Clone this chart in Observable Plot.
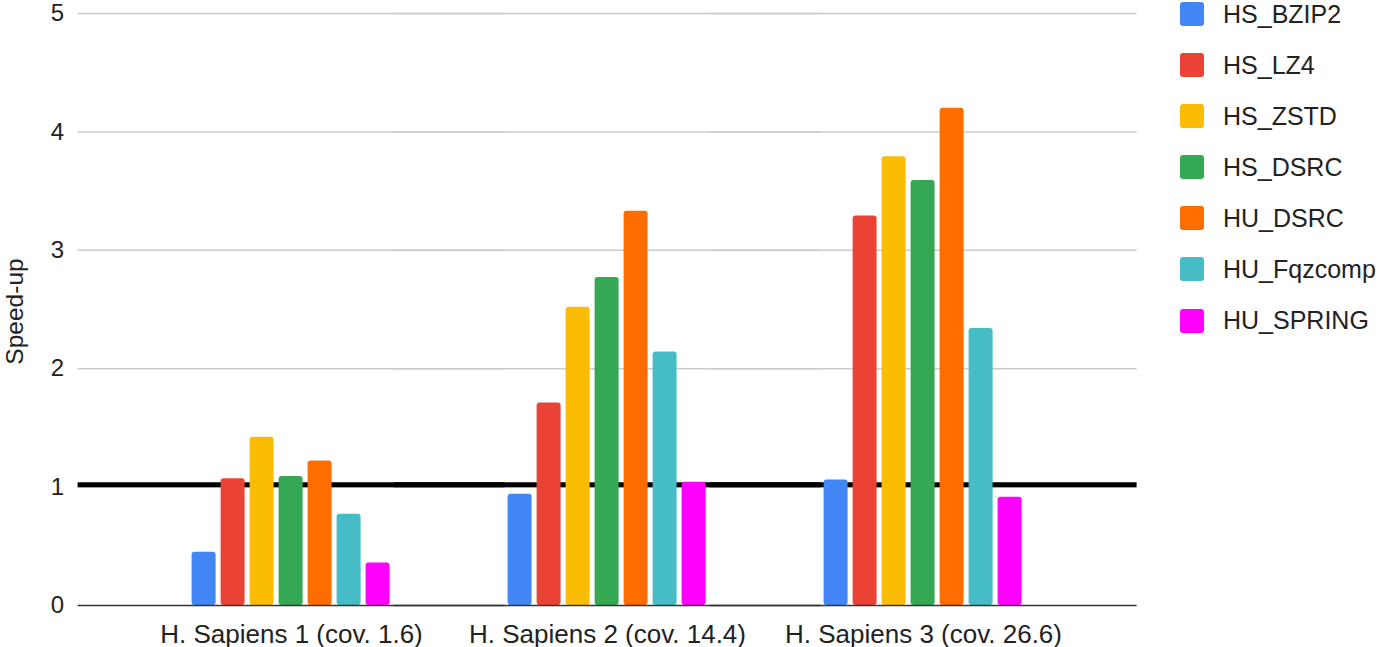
<!DOCTYPE html>
<html>
<head>
<meta charset="utf-8">
<script src="https://cdn.jsdelivr.net/npm/d3@7"></script>
<script src="https://cdn.jsdelivr.net/npm/@observablehq/plot@0.6"></script>
<style>
  html, body { margin: 0; padding: 0; background: #fff; }
  #wrap { position: relative; width: 1381px; height: 647px; font-family: "Liberation Sans", Arial, sans-serif; }
  #legend { position: absolute; left: 1180px; top: 2px; }
  .item { display: flex; align-items: center; height: 24px; margin-bottom: 27.1px; font-size: 25px; color: #222; }
  .sw { width: 24px; height: 24px; border-radius: 3px; margin-right: 19px; flex: none; }
</style>
</head>
<body>
<div id="wrap"><div id="chart"></div><div id="legend"></div></div>
<script>
const groups = ["H. Sapiens 1 (cov. 1.6)", "H. Sapiens 2 (cov. 14.4)", "H. Sapiens 3 (cov. 26.6)"];
const series = ["HS_BZIP2", "HS_LZ4", "HS_ZSTD", "HS_DSRC", "HU_DSRC", "HU_Fqzcomp", "HU_SPRING"];
const colors = ["#4285F4", "#EA4335", "#FBBC04", "#34A853", "#FF6D01", "#46BDC6", "#FF00FF"];
const HS_BZIP2   = [0.45, 0.94, 1.06];
const HS_LZ4     = [1.07, 1.71, 3.29];
const HS_ZSTD    = [1.42, 2.52, 3.79];
const HS_DSRC    = [1.09, 2.77, 3.59];
const HU_DSRC    = [1.22, 3.33, 4.20];
const HU_Fqzcomp = [0.77, 2.14, 2.34];
const HU_SPRING  = [0.36, 1.04, 0.915];
const yTicks = [0, 1, 2, 3, 4, 5];
const reference = [1.02];
const yLabel = "Speed-up";

const valuesBySeries = [HS_BZIP2, HS_LZ4, HS_ZSTD, HS_DSRC, HU_DSRC, HU_Fqzcomp, HU_SPRING];
const data = [];
groups.forEach((g, gi) => series.forEach((s, si) => data.push({group: g, series: s, value: valuesBySeries[si][gi]})));

// plot frame spans 77..1137; facets span 132.4..1081.6 so rules extend beyond facets
const extL = -55.4, extR = -55.6;

const chart = Plot.plot({
  width: 1381,
  height: 647,
  marginTop: 13,
  marginBottom: 42,
  marginLeft: 132.4,
  marginRight: 299.4,
  style: {fontFamily: '"Liberation Sans", Arial, sans-serif', fontSize: "24px", color: "#222", background: "transparent", overflow: "visible"},
  fx: {domain: groups, padding: 0, label: null},
  x: {domain: series, paddingInner: 1/6, paddingOuter: 1.857, axis: null},
  y: {domain: [0, 5], ticks: yTicks, tickFormat: d => String(d), tickSize: 0, tickPadding: 69.4, label: null},
  color: {domain: series, range: colors},
  marks: [
    Plot.ruleY(yTicks.slice(1), {stroke: "#cccccc", strokeWidth: 1.5, insetLeft: extL, insetRight: extR}),
    Plot.ruleY(reference, {stroke: "#000", strokeWidth: 5, insetLeft: extL, insetRight: extR}),
    Plot.barY(data, {fx: "group", x: "series", y: "value", fill: "series", rx: 3}),
    Plot.ruleY([0], {stroke: "#333", strokeWidth: 1.5, insetLeft: extL, insetRight: extR}),
    Plot.axisFx({anchor: "bottom", tickSize: 0, tickPadding: 19.5, fontSize: 26, label: null}),
    Plot.text([yLabel], {frameAnchor: "left", textAnchor: "middle", dx: -118.4, dy: 2, rotate: -90, fontSize: 24.5, fill: "#222", facet: "super"})
  ]
});
document.getElementById("chart").appendChild(chart);

const legend = document.getElementById("legend");
series.forEach((s, i) => {
  const it = document.createElement("div");
  it.className = "item";
  const sw = document.createElement("div");
  sw.className = "sw";
  sw.style.background = colors[i];
  const t = document.createElement("span");
  t.textContent = s;
  it.appendChild(sw); it.appendChild(t);
  legend.appendChild(it);
});
</script>
</body>
</html>
